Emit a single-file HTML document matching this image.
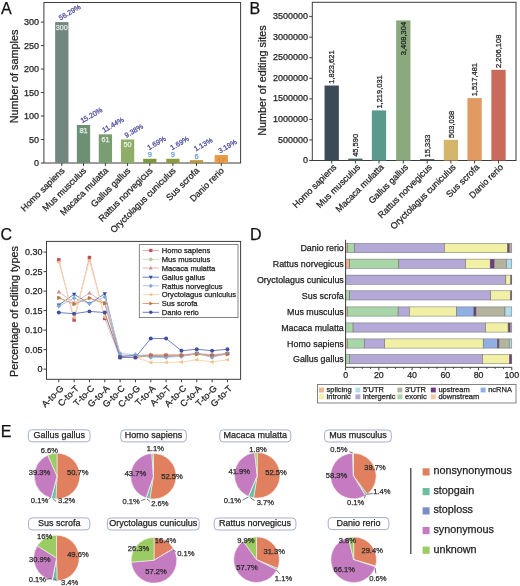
<!DOCTYPE html>
<html><head><meta charset="utf-8"><style>
html,body{margin:0;padding:0;background:#fff;}
svg{display:block;font-family:"Liberation Sans", sans-serif;filter:blur(0.3px);}
</style></head><body>
<svg width="520" height="586" viewBox="0 0 520 586">
<text x="0.90" y="13.60" font-size="16" text-anchor="start" fill="#111" stroke="#111" stroke-width="0.25">A</text>
<rect x="43.90" y="2.50" width="196.70" height="160.50" fill="none" stroke="#3c3c3c" stroke-width="1"/>
<line x1="40.90" y1="163.00" x2="43.90" y2="163.00" stroke="#3c3c3c" stroke-width="1"/>
<text x="39.00" y="166.20" font-size="9" text-anchor="end" fill="#222" stroke="#222" stroke-width="0.25">0</text>
<line x1="40.90" y1="139.52" x2="43.90" y2="139.52" stroke="#3c3c3c" stroke-width="1"/>
<text x="39.00" y="142.72" font-size="9" text-anchor="end" fill="#222" stroke="#222" stroke-width="0.25">50</text>
<line x1="40.90" y1="116.03" x2="43.90" y2="116.03" stroke="#3c3c3c" stroke-width="1"/>
<text x="39.00" y="119.23" font-size="9" text-anchor="end" fill="#222" stroke="#222" stroke-width="0.25">100</text>
<line x1="40.90" y1="92.55" x2="43.90" y2="92.55" stroke="#3c3c3c" stroke-width="1"/>
<text x="39.00" y="95.75" font-size="9" text-anchor="end" fill="#222" stroke="#222" stroke-width="0.25">150</text>
<line x1="40.90" y1="69.07" x2="43.90" y2="69.07" stroke="#3c3c3c" stroke-width="1"/>
<text x="39.00" y="72.27" font-size="9" text-anchor="end" fill="#222" stroke="#222" stroke-width="0.25">200</text>
<line x1="40.90" y1="45.58" x2="43.90" y2="45.58" stroke="#3c3c3c" stroke-width="1"/>
<text x="39.00" y="48.78" font-size="9" text-anchor="end" fill="#222" stroke="#222" stroke-width="0.25">250</text>
<line x1="40.90" y1="22.10" x2="43.90" y2="22.10" stroke="#3c3c3c" stroke-width="1"/>
<text x="39.00" y="25.30" font-size="9" text-anchor="end" fill="#222" stroke="#222" stroke-width="0.25">300</text>
<text x="0.00" y="0.00" font-size="10.8" text-anchor="middle" fill="#222" stroke="#222" stroke-width="0.25" transform="translate(17.8 76.5) rotate(-90)">Number of samples</text>
<rect x="55.15" y="22.10" width="13.30" height="140.90" fill="#718780" stroke="none" stroke-width="0"/>
<line x1="61.80" y1="163.00" x2="61.80" y2="166.00" stroke="#3c3c3c" stroke-width="1"/>
<text x="61.80" y="29.70" font-size="7.2" text-anchor="middle" fill="#e8efe8" stroke="#e8efe8" stroke-width="0.25">300</text>
<text x="60.50" y="20.50" font-size="7.1" text-anchor="start" fill="#4c4c9c" stroke="#4c4c9c" stroke-width="0.25" transform="rotate(-30 60.5 20.499999999999993)">56.29%</text>
<text x="65.10" y="171.20" font-size="9" text-anchor="end" fill="#222" stroke="#222" stroke-width="0.25" transform="rotate(-45 65.1 171.2)">Homo sapiens</text>
<rect x="76.85" y="124.96" width="13.30" height="38.04" fill="#6d8f74" stroke="none" stroke-width="0"/>
<line x1="83.50" y1="163.00" x2="83.50" y2="166.00" stroke="#3c3c3c" stroke-width="1"/>
<text x="83.50" y="132.56" font-size="7.2" text-anchor="middle" fill="#e8efe8" stroke="#e8efe8" stroke-width="0.25">81</text>
<text x="82.20" y="123.36" font-size="7.1" text-anchor="start" fill="#4c4c9c" stroke="#4c4c9c" stroke-width="0.25" transform="rotate(-30 82.2 123.357)">15.20%</text>
<text x="86.80" y="171.20" font-size="9" text-anchor="end" fill="#222" stroke="#222" stroke-width="0.25" transform="rotate(-45 86.8 171.2)">Mus musculus</text>
<rect x="98.75" y="134.35" width="13.30" height="28.65" fill="#7b9d72" stroke="none" stroke-width="0"/>
<line x1="105.40" y1="163.00" x2="105.40" y2="166.00" stroke="#3c3c3c" stroke-width="1"/>
<text x="105.40" y="141.95" font-size="7.2" text-anchor="middle" fill="#e8efe8" stroke="#e8efe8" stroke-width="0.25">61</text>
<text x="104.10" y="132.75" font-size="7.1" text-anchor="start" fill="#4c4c9c" stroke="#4c4c9c" stroke-width="0.25" transform="rotate(-30 104.10000000000001 132.75033333333334)">11.44%</text>
<text x="108.70" y="171.20" font-size="9" text-anchor="end" fill="#222" stroke="#222" stroke-width="0.25" transform="rotate(-45 108.7 171.2)">Macaca mulatta</text>
<rect x="120.95" y="139.52" width="13.30" height="23.48" fill="#8fae68" stroke="none" stroke-width="0"/>
<line x1="127.60" y1="163.00" x2="127.60" y2="166.00" stroke="#3c3c3c" stroke-width="1"/>
<text x="127.60" y="147.12" font-size="7.2" text-anchor="middle" fill="#e8efe8" stroke="#e8efe8" stroke-width="0.25">50</text>
<text x="126.30" y="137.92" font-size="7.1" text-anchor="start" fill="#4c4c9c" stroke="#4c4c9c" stroke-width="0.25" transform="rotate(-30 126.3 137.91666666666666)">9.38%</text>
<text x="130.90" y="171.20" font-size="9" text-anchor="end" fill="#222" stroke="#222" stroke-width="0.25" transform="rotate(-45 130.9 171.2)">Gallus gallus</text>
<rect x="143.15" y="158.77" width="13.30" height="4.23" fill="#7d9740" stroke="none" stroke-width="0"/>
<line x1="149.80" y1="163.00" x2="149.80" y2="166.00" stroke="#3c3c3c" stroke-width="1"/>
<text x="149.80" y="157.17" font-size="7.5" text-anchor="middle" fill="#6aa0d8" stroke="#6aa0d8" stroke-width="0.25">9</text>
<text x="149.00" y="150.17" font-size="7.1" text-anchor="start" fill="#4c4c9c" stroke="#4c4c9c" stroke-width="0.25" transform="rotate(-30 149.0 150.173)">1.69%</text>
<text x="153.10" y="171.20" font-size="9" text-anchor="end" fill="#222" stroke="#222" stroke-width="0.25" transform="rotate(-45 153.10000000000002 171.2)">Rattus norvegicus</text>
<rect x="166.25" y="158.77" width="13.30" height="4.23" fill="#8e9a3c" stroke="none" stroke-width="0"/>
<line x1="172.90" y1="163.00" x2="172.90" y2="166.00" stroke="#3c3c3c" stroke-width="1"/>
<text x="172.90" y="157.17" font-size="7.5" text-anchor="middle" fill="#6aa0d8" stroke="#6aa0d8" stroke-width="0.25">9</text>
<text x="172.10" y="150.17" font-size="7.1" text-anchor="start" fill="#4c4c9c" stroke="#4c4c9c" stroke-width="0.25" transform="rotate(-30 172.1 150.173)">1.69%</text>
<text x="176.20" y="171.20" font-size="9" text-anchor="end" fill="#222" stroke="#222" stroke-width="0.25" transform="rotate(-45 176.20000000000002 171.2)">Oryctolagus cuniculus</text>
<rect x="189.85" y="160.18" width="13.30" height="2.82" fill="#b8963c" stroke="none" stroke-width="0"/>
<line x1="196.50" y1="163.00" x2="196.50" y2="166.00" stroke="#3c3c3c" stroke-width="1"/>
<text x="196.50" y="158.58" font-size="7.5" text-anchor="middle" fill="#6aa0d8" stroke="#6aa0d8" stroke-width="0.25">6</text>
<text x="195.70" y="151.58" font-size="7.1" text-anchor="start" fill="#4c4c9c" stroke="#4c4c9c" stroke-width="0.25" transform="rotate(-30 195.7 151.582)">1.13%</text>
<text x="199.80" y="171.20" font-size="9" text-anchor="end" fill="#222" stroke="#222" stroke-width="0.25" transform="rotate(-45 199.8 171.2)">Sus scrofa</text>
<rect x="214.65" y="155.02" width="13.30" height="7.98" fill="#e89c48" stroke="none" stroke-width="0"/>
<line x1="221.30" y1="163.00" x2="221.30" y2="166.00" stroke="#3c3c3c" stroke-width="1"/>
<text x="221.30" y="162.62" font-size="7.2" text-anchor="middle" fill="#d08a3a" stroke="#d08a3a" stroke-width="0.25">17</text>
<text x="220.00" y="153.42" font-size="7.1" text-anchor="start" fill="#4c4c9c" stroke="#4c4c9c" stroke-width="0.25" transform="rotate(-30 220.0 153.41566666666668)">3.19%</text>
<text x="224.60" y="171.20" font-size="9" text-anchor="end" fill="#222" stroke="#222" stroke-width="0.25" transform="rotate(-45 224.60000000000002 171.2)">Danio rerio</text>
<text x="249.50" y="13.60" font-size="16" text-anchor="start" fill="#111" stroke="#111" stroke-width="0.25">B</text>
<rect x="312.30" y="2.30" width="203.70" height="158.20" fill="none" stroke="#3c3c3c" stroke-width="1"/>
<line x1="309.30" y1="160.50" x2="312.30" y2="160.50" stroke="#3c3c3c" stroke-width="1"/>
<text x="308.00" y="163.10" font-size="9" text-anchor="end" fill="#222" stroke="#222" stroke-width="0.25">0</text>
<line x1="309.30" y1="139.95" x2="312.30" y2="139.95" stroke="#3c3c3c" stroke-width="1"/>
<text x="308.00" y="142.55" font-size="9" text-anchor="end" fill="#222" stroke="#222" stroke-width="0.25">500000</text>
<line x1="309.30" y1="119.40" x2="312.30" y2="119.40" stroke="#3c3c3c" stroke-width="1"/>
<text x="308.00" y="122.00" font-size="9" text-anchor="end" fill="#222" stroke="#222" stroke-width="0.25">1000000</text>
<line x1="309.30" y1="98.85" x2="312.30" y2="98.85" stroke="#3c3c3c" stroke-width="1"/>
<text x="308.00" y="101.45" font-size="9" text-anchor="end" fill="#222" stroke="#222" stroke-width="0.25">1500000</text>
<line x1="309.30" y1="78.30" x2="312.30" y2="78.30" stroke="#3c3c3c" stroke-width="1"/>
<text x="308.00" y="80.90" font-size="9" text-anchor="end" fill="#222" stroke="#222" stroke-width="0.25">2000000</text>
<line x1="309.30" y1="57.75" x2="312.30" y2="57.75" stroke="#3c3c3c" stroke-width="1"/>
<text x="308.00" y="60.35" font-size="9" text-anchor="end" fill="#222" stroke="#222" stroke-width="0.25">2500000</text>
<line x1="309.30" y1="37.20" x2="312.30" y2="37.20" stroke="#3c3c3c" stroke-width="1"/>
<text x="308.00" y="39.80" font-size="9" text-anchor="end" fill="#222" stroke="#222" stroke-width="0.25">3000000</text>
<line x1="309.30" y1="16.65" x2="312.30" y2="16.65" stroke="#3c3c3c" stroke-width="1"/>
<text x="308.00" y="19.25" font-size="9" text-anchor="end" fill="#222" stroke="#222" stroke-width="0.25">3500000</text>
<text x="0.00" y="0.00" font-size="10.8" text-anchor="middle" fill="#222" stroke="#222" stroke-width="0.25" transform="translate(265.5 80.5) rotate(-90)">Number of editing sites</text>
<rect x="324.55" y="85.55" width="14.30" height="74.95" fill="#3b4a55" stroke="none" stroke-width="0"/>
<line x1="331.70" y1="160.50" x2="331.70" y2="163.50" stroke="#3c3c3c" stroke-width="1"/>
<text x="0.00" y="0.00" font-size="7.5" text-anchor="start" fill="#222" stroke="#222" stroke-width="0.25" transform="translate(334.40 83.75) rotate(-90)">1,823,621</text>
<text x="337.00" y="167.80" font-size="9" text-anchor="end" fill="#222" stroke="#222" stroke-width="0.25" transform="rotate(-45 337.0 167.8)">Homo sapiens</text>
<rect x="348.25" y="158.63" width="14.30" height="1.87" fill="#4a6462" stroke="none" stroke-width="0"/>
<line x1="355.40" y1="160.50" x2="355.40" y2="163.50" stroke="#3c3c3c" stroke-width="1"/>
<text x="0.00" y="0.00" font-size="7.5" text-anchor="start" fill="#222" stroke="#222" stroke-width="0.25" transform="translate(358.10 156.83) rotate(-90)">45,590</text>
<text x="360.70" y="167.80" font-size="9" text-anchor="end" fill="#222" stroke="#222" stroke-width="0.25" transform="rotate(-45 360.7 167.8)">Mus musculus</text>
<rect x="371.85" y="110.40" width="14.30" height="50.10" fill="#5a9a8c" stroke="none" stroke-width="0"/>
<line x1="379.00" y1="160.50" x2="379.00" y2="163.50" stroke="#3c3c3c" stroke-width="1"/>
<text x="0.00" y="0.00" font-size="7.5" text-anchor="start" fill="#222" stroke="#222" stroke-width="0.25" transform="translate(381.70 108.60) rotate(-90)">1,219,031</text>
<text x="384.30" y="167.80" font-size="9" text-anchor="end" fill="#222" stroke="#222" stroke-width="0.25" transform="rotate(-45 384.3 167.8)">Macaca mulatta</text>
<rect x="396.15" y="20.42" width="14.30" height="140.08" fill="#8aa97c" stroke="none" stroke-width="0"/>
<line x1="403.30" y1="160.50" x2="403.30" y2="163.50" stroke="#3c3c3c" stroke-width="1"/>
<text x="0.00" y="0.00" font-size="7.5" text-anchor="end" fill="#222" stroke="#222" stroke-width="0.25" transform="translate(406.00 21.92) rotate(-90)">3,408,304</text>
<text x="408.60" y="167.80" font-size="9" text-anchor="end" fill="#222" stroke="#222" stroke-width="0.25" transform="rotate(-45 408.6 167.8)">Gallus gallus</text>
<rect x="420.05" y="159.20" width="14.30" height="1.30" fill="#3a4640" stroke="none" stroke-width="0"/>
<line x1="427.20" y1="160.50" x2="427.20" y2="163.50" stroke="#3c3c3c" stroke-width="1"/>
<text x="0.00" y="0.00" font-size="7.5" text-anchor="start" fill="#222" stroke="#222" stroke-width="0.25" transform="translate(429.90 157.40) rotate(-90)">15,333</text>
<text x="432.50" y="167.80" font-size="9" text-anchor="end" fill="#222" stroke="#222" stroke-width="0.25" transform="rotate(-45 432.5 167.8)">Rattus norvegicus</text>
<rect x="443.75" y="139.83" width="14.30" height="20.67" fill="#d5b56c" stroke="none" stroke-width="0"/>
<line x1="450.90" y1="160.50" x2="450.90" y2="163.50" stroke="#3c3c3c" stroke-width="1"/>
<text x="0.00" y="0.00" font-size="7.5" text-anchor="start" fill="#222" stroke="#222" stroke-width="0.25" transform="translate(453.60 138.03) rotate(-90)">503,038</text>
<text x="456.20" y="167.80" font-size="9" text-anchor="end" fill="#222" stroke="#222" stroke-width="0.25" transform="rotate(-45 456.2 167.8)">Oryctolagus cuniculus</text>
<rect x="467.45" y="98.13" width="14.30" height="62.37" fill="#e29a63" stroke="none" stroke-width="0"/>
<line x1="474.60" y1="160.50" x2="474.60" y2="163.50" stroke="#3c3c3c" stroke-width="1"/>
<text x="0.00" y="0.00" font-size="7.5" text-anchor="start" fill="#222" stroke="#222" stroke-width="0.25" transform="translate(477.30 96.33) rotate(-90)">1,517,481</text>
<text x="479.90" y="167.80" font-size="9" text-anchor="end" fill="#222" stroke="#222" stroke-width="0.25" transform="rotate(-45 479.90000000000003 167.8)">Sus scrofa</text>
<rect x="491.35" y="69.83" width="14.30" height="90.67" fill="#c96a5a" stroke="none" stroke-width="0"/>
<line x1="498.50" y1="160.50" x2="498.50" y2="163.50" stroke="#3c3c3c" stroke-width="1"/>
<text x="0.00" y="0.00" font-size="7.5" text-anchor="start" fill="#222" stroke="#222" stroke-width="0.25" transform="translate(501.20 68.03) rotate(-90)">2,206,108</text>
<text x="503.80" y="167.80" font-size="9" text-anchor="end" fill="#222" stroke="#222" stroke-width="0.25" transform="rotate(-45 503.8 167.8)">Danio rerio</text>
<text x="0.50" y="239.80" font-size="16" text-anchor="start" fill="#111" stroke="#111" stroke-width="0.25">C</text>
<rect x="46.50" y="241.40" width="194.10" height="137.90" fill="none" stroke="#3c3c3c" stroke-width="1"/>
<line x1="43.50" y1="369.10" x2="46.50" y2="369.10" stroke="#3c3c3c" stroke-width="1"/>
<text x="42.60" y="372.30" font-size="9" text-anchor="end" fill="#222" stroke="#222" stroke-width="0.25">0</text>
<line x1="43.50" y1="349.60" x2="46.50" y2="349.60" stroke="#3c3c3c" stroke-width="1"/>
<text x="42.60" y="352.80" font-size="9" text-anchor="end" fill="#222" stroke="#222" stroke-width="0.25">0.05</text>
<line x1="43.50" y1="330.10" x2="46.50" y2="330.10" stroke="#3c3c3c" stroke-width="1"/>
<text x="42.60" y="333.30" font-size="9" text-anchor="end" fill="#222" stroke="#222" stroke-width="0.25">0.10</text>
<line x1="43.50" y1="310.60" x2="46.50" y2="310.60" stroke="#3c3c3c" stroke-width="1"/>
<text x="42.60" y="313.80" font-size="9" text-anchor="end" fill="#222" stroke="#222" stroke-width="0.25">0.15</text>
<line x1="43.50" y1="291.10" x2="46.50" y2="291.10" stroke="#3c3c3c" stroke-width="1"/>
<text x="42.60" y="294.30" font-size="9" text-anchor="end" fill="#222" stroke="#222" stroke-width="0.25">0.20</text>
<line x1="43.50" y1="271.60" x2="46.50" y2="271.60" stroke="#3c3c3c" stroke-width="1"/>
<text x="42.60" y="274.80" font-size="9" text-anchor="end" fill="#222" stroke="#222" stroke-width="0.25">0.25</text>
<line x1="43.50" y1="252.10" x2="46.50" y2="252.10" stroke="#3c3c3c" stroke-width="1"/>
<text x="42.60" y="255.30" font-size="9" text-anchor="end" fill="#222" stroke="#222" stroke-width="0.25">0.30</text>
<text x="0.00" y="0.00" font-size="10.8" text-anchor="middle" fill="#222" stroke="#222" stroke-width="0.25" transform="translate(18.1 311.5) rotate(-90)">Percentage of editing types</text>
<line x1="58.80" y1="379.30" x2="58.80" y2="382.30" stroke="#3c3c3c" stroke-width="1"/>
<text x="64.10" y="389.00" font-size="9" text-anchor="end" fill="#222" stroke="#222" stroke-width="0.25" transform="rotate(-45 64.1 389.0)">A-to-G</text>
<line x1="74.13" y1="379.30" x2="74.13" y2="382.30" stroke="#3c3c3c" stroke-width="1"/>
<text x="79.43" y="389.00" font-size="9" text-anchor="end" fill="#222" stroke="#222" stroke-width="0.25" transform="rotate(-45 79.42999999999999 389.0)">C-to-T</text>
<line x1="89.46" y1="379.30" x2="89.46" y2="382.30" stroke="#3c3c3c" stroke-width="1"/>
<text x="94.76" y="389.00" font-size="9" text-anchor="end" fill="#222" stroke="#222" stroke-width="0.25" transform="rotate(-45 94.75999999999999 389.0)">T-to-C</text>
<line x1="104.79" y1="379.30" x2="104.79" y2="382.30" stroke="#3c3c3c" stroke-width="1"/>
<text x="110.09" y="389.00" font-size="9" text-anchor="end" fill="#222" stroke="#222" stroke-width="0.25" transform="rotate(-45 110.08999999999999 389.0)">G-to-A</text>
<line x1="120.12" y1="379.30" x2="120.12" y2="382.30" stroke="#3c3c3c" stroke-width="1"/>
<text x="125.42" y="389.00" font-size="9" text-anchor="end" fill="#222" stroke="#222" stroke-width="0.25" transform="rotate(-45 125.42 389.0)">G-to-C</text>
<line x1="135.45" y1="379.30" x2="135.45" y2="382.30" stroke="#3c3c3c" stroke-width="1"/>
<text x="140.75" y="389.00" font-size="9" text-anchor="end" fill="#222" stroke="#222" stroke-width="0.25" transform="rotate(-45 140.75 389.0)">C-to-G</text>
<line x1="150.78" y1="379.30" x2="150.78" y2="382.30" stroke="#3c3c3c" stroke-width="1"/>
<text x="156.08" y="389.00" font-size="9" text-anchor="end" fill="#222" stroke="#222" stroke-width="0.25" transform="rotate(-45 156.08 389.0)">T-to-A</text>
<line x1="166.11" y1="379.30" x2="166.11" y2="382.30" stroke="#3c3c3c" stroke-width="1"/>
<text x="171.41" y="389.00" font-size="9" text-anchor="end" fill="#222" stroke="#222" stroke-width="0.25" transform="rotate(-45 171.41000000000003 389.0)">A-to-T</text>
<line x1="181.44" y1="379.30" x2="181.44" y2="382.30" stroke="#3c3c3c" stroke-width="1"/>
<text x="186.74" y="389.00" font-size="9" text-anchor="end" fill="#222" stroke="#222" stroke-width="0.25" transform="rotate(-45 186.74 389.0)">A-to-C</text>
<line x1="196.77" y1="379.30" x2="196.77" y2="382.30" stroke="#3c3c3c" stroke-width="1"/>
<text x="202.07" y="389.00" font-size="9" text-anchor="end" fill="#222" stroke="#222" stroke-width="0.25" transform="rotate(-45 202.07 389.0)">C-to-A</text>
<line x1="212.10" y1="379.30" x2="212.10" y2="382.30" stroke="#3c3c3c" stroke-width="1"/>
<text x="217.40" y="389.00" font-size="9" text-anchor="end" fill="#222" stroke="#222" stroke-width="0.25" transform="rotate(-45 217.40000000000003 389.0)">T-to-G</text>
<line x1="227.43" y1="379.30" x2="227.43" y2="382.30" stroke="#3c3c3c" stroke-width="1"/>
<text x="232.73" y="389.00" font-size="9" text-anchor="end" fill="#222" stroke="#222" stroke-width="0.25" transform="rotate(-45 232.73000000000002 389.0)">G-to-T</text>
<polyline points="58.80,259.90 74.13,319.96 89.46,257.56 104.79,318.40 120.12,357.40 135.45,357.40 150.78,355.45 166.11,355.45 181.44,355.45 196.77,353.50 212.10,355.45 227.43,353.50" fill="none" stroke="#e8a8b0" stroke-width="1"/>
<polyline points="58.80,297.73 74.13,304.36 89.46,298.12 104.79,302.80 120.12,355.45 135.45,355.45 150.78,356.23 166.11,356.23 181.44,355.45 196.77,354.28 212.10,356.23 227.43,354.28" fill="none" stroke="#d0e0c8" stroke-width="1"/>
<polyline points="58.80,291.88 74.13,302.80 89.46,293.05 104.79,302.80 120.12,355.45 135.45,355.45 150.78,354.67 166.11,354.67 181.44,354.67 196.77,353.50 212.10,354.67 227.43,353.50" fill="none" stroke="#e6b8b8" stroke-width="1"/>
<polyline points="58.80,305.14 74.13,294.22 89.46,303.58 104.79,293.83 120.12,356.62 135.45,355.45 150.78,356.23 166.11,356.23 181.44,356.23 196.77,353.50 212.10,356.23 227.43,353.50" fill="none" stroke="#6a80c0" stroke-width="1"/>
<polyline points="58.80,306.31 74.13,298.12 89.46,303.58 104.79,296.95 120.12,353.50 135.45,354.67 150.78,357.40 166.11,357.40 181.44,356.23 196.77,353.50 212.10,357.40 227.43,353.50" fill="none" stroke="#b0c8e8" stroke-width="1"/>
<polyline points="58.80,262.24 74.13,317.62 89.46,260.68 104.79,317.23 120.12,357.40 135.45,357.40 150.78,362.47 166.11,362.47 181.44,362.08 196.77,359.74 212.10,362.08 227.43,359.74" fill="none" stroke="#f6d8b0" stroke-width="1"/>
<polyline points="58.80,297.93 74.13,303.97 89.46,298.12 104.79,303.58 120.12,357.40 135.45,357.40 150.78,355.45 166.11,355.45 181.44,355.45 196.77,354.28 212.10,355.45 227.43,354.28" fill="none" stroke="#dca078" stroke-width="1"/>
<polyline points="58.80,312.55 74.13,313.72 89.46,311.38 104.79,312.55 120.12,357.40 135.45,357.40 150.78,338.49 166.11,338.49 181.44,350.77 196.77,349.21 212.10,350.77 227.43,349.21" fill="none" stroke="#7080c0" stroke-width="1"/>
<rect x="57.02" y="258.11" width="3.57" height="3.57" fill="#c4505c" stroke="none" stroke-width="0"/>
<rect x="72.34" y="318.18" width="3.57" height="3.57" fill="#c4505c" stroke="none" stroke-width="0"/>
<rect x="87.67" y="255.78" width="3.57" height="3.57" fill="#c4505c" stroke="none" stroke-width="0"/>
<rect x="103.00" y="316.62" width="3.57" height="3.57" fill="#c4505c" stroke="none" stroke-width="0"/>
<rect x="118.34" y="355.62" width="3.57" height="3.57" fill="#c4505c" stroke="none" stroke-width="0"/>
<rect x="133.66" y="355.62" width="3.57" height="3.57" fill="#c4505c" stroke="none" stroke-width="0"/>
<rect x="149.00" y="353.67" width="3.57" height="3.57" fill="#c4505c" stroke="none" stroke-width="0"/>
<rect x="164.33" y="353.67" width="3.57" height="3.57" fill="#c4505c" stroke="none" stroke-width="0"/>
<rect x="179.66" y="353.67" width="3.57" height="3.57" fill="#c4505c" stroke="none" stroke-width="0"/>
<rect x="194.98" y="351.71" width="3.57" height="3.57" fill="#c4505c" stroke="none" stroke-width="0"/>
<rect x="210.32" y="353.67" width="3.57" height="3.57" fill="#c4505c" stroke="none" stroke-width="0"/>
<rect x="225.65" y="351.71" width="3.57" height="3.57" fill="#c4505c" stroke="none" stroke-width="0"/>
<circle cx="58.80" cy="297.73" r="1.99" fill="#b4cca4"/>
<circle cx="74.13" cy="304.36" r="1.99" fill="#b4cca4"/>
<circle cx="89.46" cy="298.12" r="1.99" fill="#b4cca4"/>
<circle cx="104.79" cy="302.80" r="1.99" fill="#b4cca4"/>
<circle cx="120.12" cy="355.45" r="1.99" fill="#b4cca4"/>
<circle cx="135.45" cy="355.45" r="1.99" fill="#b4cca4"/>
<circle cx="150.78" cy="356.23" r="1.99" fill="#b4cca4"/>
<circle cx="166.11" cy="356.23" r="1.99" fill="#b4cca4"/>
<circle cx="181.44" cy="355.45" r="1.99" fill="#b4cca4"/>
<circle cx="196.77" cy="354.28" r="1.99" fill="#b4cca4"/>
<circle cx="212.10" cy="356.23" r="1.99" fill="#b4cca4"/>
<circle cx="227.43" cy="354.28" r="1.99" fill="#b4cca4"/>
<path d="M58.80 289.46L60.90 293.45L56.70 293.45Z" fill="#cc9090"/>
<path d="M74.13 300.38L76.23 304.38L72.03 304.38Z" fill="#cc9090"/>
<path d="M89.46 290.63L91.56 294.62L87.36 294.62Z" fill="#cc9090"/>
<path d="M104.79 300.38L106.89 304.38L102.69 304.38Z" fill="#cc9090"/>
<path d="M120.12 353.04L122.22 357.03L118.02 357.03Z" fill="#cc9090"/>
<path d="M135.45 353.04L137.55 357.03L133.35 357.03Z" fill="#cc9090"/>
<path d="M150.78 352.25L152.88 356.25L148.68 356.25Z" fill="#cc9090"/>
<path d="M166.11 352.25L168.21 356.25L164.01 356.25Z" fill="#cc9090"/>
<path d="M181.44 352.25L183.54 356.25L179.34 356.25Z" fill="#cc9090"/>
<path d="M196.77 351.08L198.87 355.07L194.67 355.07Z" fill="#cc9090"/>
<path d="M212.10 352.25L214.20 356.25L210.00 356.25Z" fill="#cc9090"/>
<path d="M227.43 351.08L229.53 355.07L225.33 355.07Z" fill="#cc9090"/>
<path d="M58.80 307.56L60.90 303.57L56.70 303.57Z" fill="#2f4c9c"/>
<path d="M74.13 296.64L76.23 292.65L72.03 292.65Z" fill="#2f4c9c"/>
<path d="M89.46 306.00L91.56 302.01L87.36 302.01Z" fill="#2f4c9c"/>
<path d="M104.79 296.25L106.89 292.26L102.69 292.26Z" fill="#2f4c9c"/>
<path d="M120.12 359.04L122.22 355.05L118.02 355.05Z" fill="#2f4c9c"/>
<path d="M135.45 357.87L137.55 353.88L133.35 353.88Z" fill="#2f4c9c"/>
<path d="M150.78 358.65L152.88 354.66L148.68 354.66Z" fill="#2f4c9c"/>
<path d="M166.11 358.65L168.21 354.66L164.01 354.66Z" fill="#2f4c9c"/>
<path d="M181.44 358.65L183.54 354.66L179.34 354.66Z" fill="#2f4c9c"/>
<path d="M196.77 355.92L198.87 351.93L194.67 351.93Z" fill="#2f4c9c"/>
<path d="M212.10 358.65L214.20 354.66L210.00 354.66Z" fill="#2f4c9c"/>
<path d="M227.43 355.92L229.53 351.93L225.33 351.93Z" fill="#2f4c9c"/>
<path d="M58.8 304.0L61.11 306.31L58.8 308.62L56.489999999999995 306.31Z" fill="#86a8d6"/>
<path d="M74.13 295.81L76.44 298.12L74.13 300.43L71.82 298.12Z" fill="#86a8d6"/>
<path d="M89.46 301.27000000000004L91.77 303.58000000000004L89.46 305.89000000000004L87.14999999999999 303.58000000000004Z" fill="#86a8d6"/>
<path d="M104.78999999999999 294.64000000000004L107.1 296.95000000000005L104.78999999999999 299.26000000000005L102.47999999999999 296.95000000000005Z" fill="#86a8d6"/>
<path d="M120.12 351.19L122.43 353.5L120.12 355.81L117.81 353.5Z" fill="#86a8d6"/>
<path d="M135.45 352.36L137.76 354.67L135.45 356.98L133.14 354.67Z" fill="#86a8d6"/>
<path d="M150.78 355.09000000000003L153.09 357.40000000000003L150.78 359.71000000000004L148.47 357.40000000000003Z" fill="#86a8d6"/>
<path d="M166.11 355.09000000000003L168.42000000000002 357.40000000000003L166.11 359.71000000000004L163.8 357.40000000000003Z" fill="#86a8d6"/>
<path d="M181.44 353.92L183.75 356.23L181.44 358.54L179.13 356.23Z" fill="#86a8d6"/>
<path d="M196.76999999999998 351.19L199.07999999999998 353.5L196.76999999999998 355.81L194.45999999999998 353.5Z" fill="#86a8d6"/>
<path d="M212.10000000000002 355.09000000000003L214.41000000000003 357.40000000000003L212.10000000000002 359.71000000000004L209.79000000000002 357.40000000000003Z" fill="#86a8d6"/>
<path d="M227.43 351.19L229.74 353.5L227.43 355.81L225.12 353.5Z" fill="#86a8d6"/>
<path d="M56.38 262.24L60.38 260.14L60.38 264.34Z" fill="#f0c488"/>
<path d="M71.71 317.62L75.70 315.52L75.70 319.72Z" fill="#f0c488"/>
<path d="M87.04 260.68L91.03 258.58L91.03 262.78Z" fill="#f0c488"/>
<path d="M102.37 317.23L106.36 315.13L106.36 319.33Z" fill="#f0c488"/>
<path d="M117.70 357.40L121.70 355.30L121.70 359.50Z" fill="#f0c488"/>
<path d="M133.03 357.40L137.02 355.30L137.02 359.50Z" fill="#f0c488"/>
<path d="M148.37 362.47L152.35 360.37L152.35 364.57Z" fill="#f0c488"/>
<path d="M163.70 362.47L167.69 360.37L167.69 364.57Z" fill="#f0c488"/>
<path d="M179.03 362.08L183.01 359.98L183.01 364.18Z" fill="#f0c488"/>
<path d="M194.35 359.74L198.34 357.64L198.34 361.84Z" fill="#f0c488"/>
<path d="M209.69 362.08L213.68 359.98L213.68 364.18Z" fill="#f0c488"/>
<path d="M225.02 359.74L229.00 357.64L229.00 361.84Z" fill="#f0c488"/>
<path d="M61.21 297.93L57.22 295.82L57.22 300.03Z" fill="#c47040"/>
<path d="M76.55 303.97L72.55 301.87L72.55 306.07Z" fill="#c47040"/>
<path d="M91.88 298.12L87.88 296.02L87.88 300.22Z" fill="#c47040"/>
<path d="M107.20 303.58L103.21 301.48L103.21 305.68Z" fill="#c47040"/>
<path d="M122.54 357.40L118.55 355.30L118.55 359.50Z" fill="#c47040"/>
<path d="M137.86 357.40L133.88 355.30L133.88 359.50Z" fill="#c47040"/>
<path d="M153.19 355.45L149.21 353.35L149.21 357.55Z" fill="#c47040"/>
<path d="M168.53 355.45L164.54 353.35L164.54 357.55Z" fill="#c47040"/>
<path d="M183.85 355.45L179.87 353.35L179.87 357.55Z" fill="#c47040"/>
<path d="M199.18 354.28L195.19 352.18L195.19 356.38Z" fill="#c47040"/>
<path d="M214.52 355.45L210.53 353.35L210.53 357.55Z" fill="#c47040"/>
<path d="M229.84 354.28L225.86 352.18L225.86 356.38Z" fill="#c47040"/>
<circle cx="58.80" cy="312.55" r="1.99" fill="#4050a0"/>
<circle cx="74.13" cy="313.72" r="1.99" fill="#4050a0"/>
<circle cx="89.46" cy="311.38" r="1.99" fill="#4050a0"/>
<circle cx="104.79" cy="312.55" r="1.99" fill="#4050a0"/>
<circle cx="120.12" cy="357.40" r="1.99" fill="#4050a0"/>
<circle cx="135.45" cy="357.40" r="1.99" fill="#4050a0"/>
<circle cx="150.78" cy="338.49" r="1.99" fill="#4050a0"/>
<circle cx="166.11" cy="338.49" r="1.99" fill="#4050a0"/>
<circle cx="181.44" cy="350.77" r="1.99" fill="#4050a0"/>
<circle cx="196.77" cy="349.21" r="1.99" fill="#4050a0"/>
<circle cx="212.10" cy="350.77" r="1.99" fill="#4050a0"/>
<circle cx="227.43" cy="349.21" r="1.99" fill="#4050a0"/>
<rect x="139.30" y="244.60" width="98.70" height="73.00" fill="#fff" stroke="#666" stroke-width="0.8"/>
<line x1="142.60" y1="250.50" x2="159.00" y2="250.50" stroke="#e8a8b0" stroke-width="1"/>
<rect x="149.19" y="248.88" width="3.23" height="3.23" fill="#c4505c" stroke="none" stroke-width="0"/>
<text x="161.70" y="253.30" font-size="7.6" text-anchor="start" fill="#222" stroke="#222" stroke-width="0.25">Homo sapiens</text>
<line x1="142.60" y1="259.40" x2="159.00" y2="259.40" stroke="#d0e0c8" stroke-width="1"/>
<circle cx="150.80" cy="259.40" r="1.80" fill="#b4cca4"/>
<text x="161.70" y="262.20" font-size="7.6" text-anchor="start" fill="#222" stroke="#222" stroke-width="0.25">Mus musculus</text>
<line x1="142.60" y1="268.00" x2="159.00" y2="268.00" stroke="#e6b8b8" stroke-width="1"/>
<path d="M150.80 265.81L152.70 269.43L148.90 269.43Z" fill="#cc9090"/>
<text x="161.70" y="270.80" font-size="7.6" text-anchor="start" fill="#222" stroke="#222" stroke-width="0.25">Macaca mulatta</text>
<line x1="142.60" y1="277.20" x2="159.00" y2="277.20" stroke="#6a80c0" stroke-width="1"/>
<path d="M150.80 279.38L152.70 275.77L148.90 275.77Z" fill="#2f4c9c"/>
<text x="161.70" y="280.00" font-size="7.6" text-anchor="start" fill="#222" stroke="#222" stroke-width="0.25">Gallus gallus</text>
<line x1="142.60" y1="285.80" x2="159.00" y2="285.80" stroke="#b0c8e8" stroke-width="1"/>
<path d="M150.8 283.71000000000004L152.89000000000001 285.8L150.8 287.89L148.71 285.8Z" fill="#86a8d6"/>
<text x="161.70" y="288.60" font-size="7.6" text-anchor="start" fill="#222" stroke="#222" stroke-width="0.25">Rattus norvegicus</text>
<line x1="142.60" y1="294.60" x2="159.00" y2="294.60" stroke="#f6d8b0" stroke-width="1"/>
<path d="M148.62 294.60L152.23 292.70L152.23 296.50Z" fill="#f0c488"/>
<text x="161.70" y="297.40" font-size="7.6" text-anchor="start" fill="#222" stroke="#222" stroke-width="0.25">Oryctolagus cuniculus</text>
<line x1="142.60" y1="303.50" x2="159.00" y2="303.50" stroke="#dca078" stroke-width="1"/>
<path d="M152.99 303.50L149.38 301.60L149.38 305.40Z" fill="#c47040"/>
<text x="161.70" y="306.30" font-size="7.6" text-anchor="start" fill="#222" stroke="#222" stroke-width="0.25">Sus scrofa</text>
<line x1="142.60" y1="312.30" x2="159.00" y2="312.30" stroke="#7080c0" stroke-width="1"/>
<circle cx="150.80" cy="312.30" r="1.80" fill="#4050a0"/>
<text x="161.70" y="315.10" font-size="7.6" text-anchor="start" fill="#222" stroke="#222" stroke-width="0.25">Danio rerio</text>
<text x="249.90" y="239.50" font-size="16" text-anchor="start" fill="#111" stroke="#111" stroke-width="0.25">D</text>
<rect x="345.60" y="243.50" width="1.83" height="9.20" fill="#f0b48e" stroke="#6a6a6a" stroke-width="0.5"/>
<rect x="347.43" y="243.50" width="7.31" height="9.20" fill="#a8d6a8" stroke="#6a6a6a" stroke-width="0.5"/>
<rect x="354.74" y="243.50" width="89.75" height="9.20" fill="#b4a8d6" stroke="#6a6a6a" stroke-width="0.5"/>
<rect x="444.49" y="243.50" width="63.16" height="9.20" fill="#f2f0a4" stroke="#6a6a6a" stroke-width="0.5"/>
<rect x="507.64" y="243.50" width="1.66" height="9.20" fill="#6c3a7e" stroke="#6a6a6a" stroke-width="0.5"/>
<rect x="509.31" y="243.50" width="2.49" height="9.20" fill="#b3b39e" stroke="#6a6a6a" stroke-width="0.5"/>
<text x="343.80" y="251.30" font-size="8.9" text-anchor="end" fill="#222" stroke="#222" stroke-width="0.25">Danio rerio</text>
<rect x="345.60" y="259.10" width="4.15" height="9.20" fill="#f0b48e" stroke="#6a6a6a" stroke-width="0.5"/>
<rect x="349.75" y="259.10" width="49.03" height="9.20" fill="#a8d6a8" stroke="#6a6a6a" stroke-width="0.5"/>
<rect x="398.78" y="259.10" width="66.81" height="9.20" fill="#b4a8d6" stroke="#6a6a6a" stroke-width="0.5"/>
<rect x="465.60" y="259.10" width="24.60" height="9.20" fill="#f2f0a4" stroke="#6a6a6a" stroke-width="0.5"/>
<rect x="490.19" y="259.10" width="3.99" height="9.20" fill="#6c3a7e" stroke="#6a6a6a" stroke-width="0.5"/>
<rect x="494.18" y="259.10" width="12.13" height="9.20" fill="#b3b39e" stroke="#6a6a6a" stroke-width="0.5"/>
<rect x="506.32" y="259.10" width="5.48" height="9.20" fill="#b2dcea" stroke="#6a6a6a" stroke-width="0.5"/>
<text x="343.80" y="266.90" font-size="8.9" text-anchor="end" fill="#222" stroke="#222" stroke-width="0.25">Rattus norvegicus</text>
<rect x="345.60" y="275.10" width="160.22" height="9.20" fill="#b4a8d6" stroke="#6a6a6a" stroke-width="0.5"/>
<rect x="505.82" y="275.10" width="4.99" height="9.20" fill="#f2f0a4" stroke="#6a6a6a" stroke-width="0.5"/>
<rect x="510.80" y="275.10" width="1.00" height="9.20" fill="#6c3a7e" stroke="#6a6a6a" stroke-width="0.5"/>
<text x="343.80" y="282.90" font-size="8.9" text-anchor="end" fill="#222" stroke="#222" stroke-width="0.25">Oryctolagus cuniculus</text>
<rect x="345.60" y="290.80" width="4.15" height="9.20" fill="#a8d6a8" stroke="#6a6a6a" stroke-width="0.5"/>
<rect x="349.75" y="290.80" width="140.94" height="9.20" fill="#b4a8d6" stroke="#6a6a6a" stroke-width="0.5"/>
<rect x="490.69" y="290.80" width="19.94" height="9.20" fill="#f2f0a4" stroke="#6a6a6a" stroke-width="0.5"/>
<rect x="510.64" y="290.80" width="1.16" height="9.20" fill="#6c3a7e" stroke="#6a6a6a" stroke-width="0.5"/>
<text x="343.80" y="298.60" font-size="8.9" text-anchor="end" fill="#222" stroke="#222" stroke-width="0.25">Sus scrofa</text>
<rect x="345.60" y="306.90" width="1.66" height="9.20" fill="#f0b48e" stroke="#6a6a6a" stroke-width="0.5"/>
<rect x="347.26" y="306.90" width="50.86" height="9.20" fill="#a8d6a8" stroke="#6a6a6a" stroke-width="0.5"/>
<rect x="398.12" y="306.90" width="11.30" height="9.20" fill="#b4a8d6" stroke="#6a6a6a" stroke-width="0.5"/>
<rect x="409.42" y="306.90" width="47.20" height="9.20" fill="#f2f0a4" stroke="#6a6a6a" stroke-width="0.5"/>
<rect x="456.62" y="306.90" width="17.28" height="9.20" fill="#90b0e4" stroke="#6a6a6a" stroke-width="0.5"/>
<rect x="473.91" y="306.90" width="2.16" height="9.20" fill="#6c3a7e" stroke="#6a6a6a" stroke-width="0.5"/>
<rect x="476.07" y="306.90" width="28.92" height="9.20" fill="#b3b39e" stroke="#6a6a6a" stroke-width="0.5"/>
<rect x="504.99" y="306.90" width="6.81" height="9.20" fill="#b2dcea" stroke="#6a6a6a" stroke-width="0.5"/>
<text x="343.80" y="314.70" font-size="8.9" text-anchor="end" fill="#222" stroke="#222" stroke-width="0.25">Mus musculus</text>
<rect x="345.60" y="322.90" width="7.48" height="9.20" fill="#a8d6a8" stroke="#6a6a6a" stroke-width="0.5"/>
<rect x="353.08" y="322.90" width="132.46" height="9.20" fill="#b4a8d6" stroke="#6a6a6a" stroke-width="0.5"/>
<rect x="485.54" y="322.90" width="22.60" height="9.20" fill="#f2f0a4" stroke="#6a6a6a" stroke-width="0.5"/>
<rect x="508.14" y="322.90" width="1.99" height="9.20" fill="#6c3a7e" stroke="#6a6a6a" stroke-width="0.5"/>
<rect x="510.14" y="322.90" width="1.66" height="9.20" fill="#b3b39e" stroke="#6a6a6a" stroke-width="0.5"/>
<text x="343.80" y="330.70" font-size="8.9" text-anchor="end" fill="#222" stroke="#222" stroke-width="0.25">Macaca mulatta</text>
<rect x="345.60" y="338.90" width="1.66" height="9.20" fill="#f0b48e" stroke="#6a6a6a" stroke-width="0.5"/>
<rect x="347.26" y="338.90" width="16.95" height="9.20" fill="#a8d6a8" stroke="#6a6a6a" stroke-width="0.5"/>
<rect x="364.21" y="338.90" width="20.44" height="9.20" fill="#b4a8d6" stroke="#6a6a6a" stroke-width="0.5"/>
<rect x="384.66" y="338.90" width="98.56" height="9.20" fill="#f2f0a4" stroke="#6a6a6a" stroke-width="0.5"/>
<rect x="483.21" y="338.90" width="14.13" height="9.20" fill="#90b0e4" stroke="#6a6a6a" stroke-width="0.5"/>
<rect x="497.34" y="338.90" width="1.66" height="9.20" fill="#6c3a7e" stroke="#6a6a6a" stroke-width="0.5"/>
<rect x="499.00" y="338.90" width="10.30" height="9.20" fill="#b3b39e" stroke="#6a6a6a" stroke-width="0.5"/>
<rect x="509.31" y="338.90" width="2.49" height="9.20" fill="#b2dcea" stroke="#6a6a6a" stroke-width="0.5"/>
<text x="343.80" y="346.70" font-size="8.9" text-anchor="end" fill="#222" stroke="#222" stroke-width="0.25">Homo sapiens</text>
<rect x="345.60" y="354.60" width="3.82" height="9.20" fill="#a8d6a8" stroke="#6a6a6a" stroke-width="0.5"/>
<rect x="349.42" y="354.60" width="133.13" height="9.20" fill="#b4a8d6" stroke="#6a6a6a" stroke-width="0.5"/>
<rect x="482.55" y="354.60" width="26.92" height="9.20" fill="#f2f0a4" stroke="#6a6a6a" stroke-width="0.5"/>
<rect x="509.47" y="354.60" width="2.33" height="9.20" fill="#6c3a7e" stroke="#6a6a6a" stroke-width="0.5"/>
<text x="343.80" y="362.40" font-size="8.9" text-anchor="end" fill="#222" stroke="#222" stroke-width="0.25">Gallus gallus</text>
<line x1="345.60" y1="239.80" x2="345.60" y2="367.30" stroke="#3c3c3c" stroke-width="1"/>
<line x1="345.60" y1="367.30" x2="511.80" y2="367.30" stroke="#3c3c3c" stroke-width="1"/>
<line x1="345.60" y1="367.30" x2="345.60" y2="370.30" stroke="#3c3c3c" stroke-width="1"/>
<line x1="353.91" y1="367.30" x2="353.91" y2="368.90" stroke="#3c3c3c" stroke-width="1"/>
<line x1="362.22" y1="367.30" x2="362.22" y2="368.90" stroke="#3c3c3c" stroke-width="1"/>
<line x1="370.53" y1="367.30" x2="370.53" y2="368.90" stroke="#3c3c3c" stroke-width="1"/>
<line x1="378.84" y1="367.30" x2="378.84" y2="370.30" stroke="#3c3c3c" stroke-width="1"/>
<line x1="387.15" y1="367.30" x2="387.15" y2="368.90" stroke="#3c3c3c" stroke-width="1"/>
<line x1="395.46" y1="367.30" x2="395.46" y2="368.90" stroke="#3c3c3c" stroke-width="1"/>
<line x1="403.77" y1="367.30" x2="403.77" y2="368.90" stroke="#3c3c3c" stroke-width="1"/>
<line x1="412.08" y1="367.30" x2="412.08" y2="370.30" stroke="#3c3c3c" stroke-width="1"/>
<line x1="420.39" y1="367.30" x2="420.39" y2="368.90" stroke="#3c3c3c" stroke-width="1"/>
<line x1="428.70" y1="367.30" x2="428.70" y2="368.90" stroke="#3c3c3c" stroke-width="1"/>
<line x1="437.01" y1="367.30" x2="437.01" y2="368.90" stroke="#3c3c3c" stroke-width="1"/>
<line x1="445.32" y1="367.30" x2="445.32" y2="370.30" stroke="#3c3c3c" stroke-width="1"/>
<line x1="453.63" y1="367.30" x2="453.63" y2="368.90" stroke="#3c3c3c" stroke-width="1"/>
<line x1="461.94" y1="367.30" x2="461.94" y2="368.90" stroke="#3c3c3c" stroke-width="1"/>
<line x1="470.25" y1="367.30" x2="470.25" y2="368.90" stroke="#3c3c3c" stroke-width="1"/>
<line x1="478.56" y1="367.30" x2="478.56" y2="370.30" stroke="#3c3c3c" stroke-width="1"/>
<line x1="486.87" y1="367.30" x2="486.87" y2="368.90" stroke="#3c3c3c" stroke-width="1"/>
<line x1="495.18" y1="367.30" x2="495.18" y2="368.90" stroke="#3c3c3c" stroke-width="1"/>
<line x1="503.49" y1="367.30" x2="503.49" y2="368.90" stroke="#3c3c3c" stroke-width="1"/>
<line x1="511.80" y1="367.30" x2="511.80" y2="370.30" stroke="#3c3c3c" stroke-width="1"/>
<text x="345.60" y="377.60" font-size="8.8" text-anchor="middle" fill="#222" stroke="#222" stroke-width="0.25">0</text>
<text x="378.84" y="377.60" font-size="8.8" text-anchor="middle" fill="#222" stroke="#222" stroke-width="0.25">20</text>
<text x="412.08" y="377.60" font-size="8.8" text-anchor="middle" fill="#222" stroke="#222" stroke-width="0.25">40</text>
<text x="445.32" y="377.60" font-size="8.8" text-anchor="middle" fill="#222" stroke="#222" stroke-width="0.25">60</text>
<text x="478.56" y="377.60" font-size="8.8" text-anchor="middle" fill="#222" stroke="#222" stroke-width="0.25">80</text>
<text x="511.80" y="377.60" font-size="8.8" text-anchor="middle" fill="#222" stroke="#222" stroke-width="0.25">100</text>
<rect x="317.40" y="384.40" width="198.60" height="18.60" fill="#fff" stroke="#666" stroke-width="0.8"/>
<rect x="319.00" y="387.60" width="5.00" height="4.80" fill="#f0b48e" stroke="none" stroke-width="0"/>
<text x="326.60" y="392.20" font-size="7.5" text-anchor="start" fill="#222" stroke="#222" stroke-width="0.25">splicing</text>
<rect x="355.40" y="387.60" width="5.00" height="4.80" fill="#b2dcea" stroke="none" stroke-width="0"/>
<text x="363.00" y="392.20" font-size="7.5" text-anchor="start" fill="#222" stroke="#222" stroke-width="0.25">5'UTR</text>
<rect x="397.40" y="387.60" width="5.00" height="4.80" fill="#b3b39e" stroke="none" stroke-width="0"/>
<text x="405.00" y="392.20" font-size="7.5" text-anchor="start" fill="#222" stroke="#222" stroke-width="0.25">3'UTR</text>
<rect x="430.80" y="387.60" width="5.00" height="4.80" fill="#6c3a7e" stroke="none" stroke-width="0"/>
<text x="438.40" y="392.20" font-size="7.5" text-anchor="start" fill="#222" stroke="#222" stroke-width="0.25">upstream</text>
<rect x="480.60" y="387.60" width="5.00" height="4.80" fill="#90b0e4" stroke="none" stroke-width="0"/>
<text x="488.20" y="392.20" font-size="7.5" text-anchor="start" fill="#222" stroke="#222" stroke-width="0.25">ncRNA</text>
<rect x="319.00" y="394.40" width="5.00" height="4.80" fill="#f2f0a4" stroke="none" stroke-width="0"/>
<text x="326.60" y="399.00" font-size="7.5" text-anchor="start" fill="#222" stroke="#222" stroke-width="0.25">intronic</text>
<rect x="355.40" y="394.40" width="5.00" height="4.80" fill="#b4a8d6" stroke="none" stroke-width="0"/>
<text x="363.00" y="399.00" font-size="7.5" text-anchor="start" fill="#222" stroke="#222" stroke-width="0.25">intergenic</text>
<rect x="397.40" y="394.40" width="5.00" height="4.80" fill="#a8d6a8" stroke="none" stroke-width="0"/>
<text x="405.00" y="399.00" font-size="7.5" text-anchor="start" fill="#222" stroke="#222" stroke-width="0.25">exonic</text>
<rect x="430.80" y="394.40" width="5.00" height="4.80" fill="#f2c8a0" stroke="none" stroke-width="0"/>
<text x="438.40" y="399.00" font-size="7.5" text-anchor="start" fill="#222" stroke="#222" stroke-width="0.25">downstream</text>
<text x="0.80" y="436.50" font-size="16" text-anchor="start" fill="#111" stroke="#111" stroke-width="0.25">E</text>
<rect x="28.30" y="429.80" width="61.70" height="12" rx="3.5" ry="3.5" fill="#fff" stroke="#9aa4cc" stroke-width="0.9"/>
<text x="59.15" y="438.10" font-size="9" text-anchor="middle" fill="#222" stroke="#222" stroke-width="0.25">Gallus gallus</text>
<path d="M57.00 476.00L57.00 453.20A22.8 22.8 0 1 1 55.92 498.77Z" fill="#e0805f" stroke="#f4f4f4" stroke-width="0.6"/>
<path d="M57.00 476.00L55.92 498.77A22.8 22.8 0 0 1 51.39 498.10Z" fill="#6cbf9e" stroke="#f4f4f4" stroke-width="0.6"/>
<path d="M57.00 476.00L51.39 498.10A22.8 22.8 0 0 1 51.25 498.06Z" fill="#7c8ec6" stroke="#f4f4f4" stroke-width="0.6"/>
<path d="M57.00 476.00L51.25 498.06A22.8 22.8 0 0 1 47.81 455.14Z" fill="#c57bc0" stroke="#f4f4f4" stroke-width="0.6"/>
<path d="M57.00 476.00L47.81 455.14A22.8 22.8 0 0 1 57.00 453.20Z" fill="#9bcb63" stroke="#f4f4f4" stroke-width="0.6"/>
<rect x="120.80" y="429.90" width="65.50" height="12" rx="3.5" ry="3.5" fill="#fff" stroke="#9aa4cc" stroke-width="0.9"/>
<text x="153.55" y="438.20" font-size="9" text-anchor="middle" fill="#222" stroke="#222" stroke-width="0.25">Homo sapiens</text>
<path d="M153.40 476.20L153.40 453.40A22.8 22.8 0 1 1 149.83 498.72Z" fill="#e0805f" stroke="#f4f4f4" stroke-width="0.6"/>
<path d="M153.40 476.20L149.83 498.72A22.8 22.8 0 0 1 146.22 497.84Z" fill="#6cbf9e" stroke="#f4f4f4" stroke-width="0.6"/>
<path d="M153.40 476.20L146.22 497.84A22.8 22.8 0 0 1 146.08 497.79Z" fill="#7c8ec6" stroke="#f4f4f4" stroke-width="0.6"/>
<path d="M153.40 476.20L146.08 497.79A22.8 22.8 0 0 1 151.83 453.45Z" fill="#c57bc0" stroke="#f4f4f4" stroke-width="0.6"/>
<path d="M153.40 476.20L151.83 453.45A22.8 22.8 0 0 1 153.40 453.40Z" fill="#9bcb63" stroke="#f4f4f4" stroke-width="0.6"/>
<rect x="219.80" y="429.90" width="71.00" height="12" rx="3.5" ry="3.5" fill="#fff" stroke="#9aa4cc" stroke-width="0.9"/>
<text x="255.30" y="438.20" font-size="9" text-anchor="middle" fill="#222" stroke="#222" stroke-width="0.25">Macaca mulatta</text>
<path d="M257.20 475.30L257.20 452.50A22.8 22.8 0 1 1 253.63 497.82Z" fill="#e0805f" stroke="#f4f4f4" stroke-width="0.6"/>
<path d="M257.20 475.30L253.63 497.82A22.8 22.8 0 0 1 248.54 496.39Z" fill="#6cbf9e" stroke="#f4f4f4" stroke-width="0.6"/>
<path d="M257.20 475.30L248.54 496.39A22.8 22.8 0 0 1 248.41 496.34Z" fill="#7c8ec6" stroke="#f4f4f4" stroke-width="0.6"/>
<path d="M257.20 475.30L248.41 496.34A22.8 22.8 0 0 1 254.63 452.65Z" fill="#c57bc0" stroke="#f4f4f4" stroke-width="0.6"/>
<path d="M257.20 475.30L254.63 452.65A22.8 22.8 0 0 1 257.20 452.50Z" fill="#9bcb63" stroke="#f4f4f4" stroke-width="0.6"/>
<rect x="324.60" y="430.00" width="66.70" height="12" rx="3.5" ry="3.5" fill="#fff" stroke="#9aa4cc" stroke-width="0.9"/>
<text x="357.95" y="438.30" font-size="9" text-anchor="middle" fill="#222" stroke="#222" stroke-width="0.25">Mus musculus</text>
<path d="M353.40 476.00L353.40 453.20A22.8 22.8 0 0 1 367.15 494.19Z" fill="#e0805f" stroke="#f4f4f4" stroke-width="0.6"/>
<path d="M353.40 476.00L367.15 494.19A22.8 22.8 0 0 1 365.50 495.33Z" fill="#6cbf9e" stroke="#f4f4f4" stroke-width="0.6"/>
<path d="M353.40 476.00L365.50 495.33A22.8 22.8 0 0 1 365.37 495.40Z" fill="#7c8ec6" stroke="#f4f4f4" stroke-width="0.6"/>
<path d="M353.40 476.00L365.37 495.40A22.8 22.8 0 1 1 352.68 453.21Z" fill="#c57bc0" stroke="#f4f4f4" stroke-width="0.6"/>
<path d="M353.40 476.00L352.68 453.21A22.8 22.8 0 0 1 353.40 453.20Z" fill="#9bcb63" stroke="#f4f4f4" stroke-width="0.6"/>
<rect x="28.50" y="517.90" width="61.30" height="12" rx="3.5" ry="3.5" fill="#fff" stroke="#9aa4cc" stroke-width="0.9"/>
<text x="59.15" y="526.20" font-size="9" text-anchor="middle" fill="#222" stroke="#222" stroke-width="0.25">Sus scrofa</text>
<path d="M56.50 558.00L56.50 535.20A22.8 22.8 0 0 1 57.07 580.79Z" fill="#e0805f" stroke="#f4f4f4" stroke-width="0.6"/>
<path d="M56.50 558.00L57.07 580.79A22.8 22.8 0 0 1 52.23 580.40Z" fill="#6cbf9e" stroke="#f4f4f4" stroke-width="0.6"/>
<path d="M56.50 558.00L52.23 580.40A22.8 22.8 0 0 1 52.09 580.37Z" fill="#7c8ec6" stroke="#f4f4f4" stroke-width="0.6"/>
<path d="M56.50 558.00L52.09 580.37A22.8 22.8 0 0 1 37.25 545.78Z" fill="#c57bc0" stroke="#f4f4f4" stroke-width="0.6"/>
<path d="M56.50 558.00L37.25 545.78A22.8 22.8 0 0 1 56.50 535.20Z" fill="#9bcb63" stroke="#f4f4f4" stroke-width="0.6"/>
<rect x="107.40" y="518.00" width="91.80" height="12" rx="3.5" ry="3.5" fill="#fff" stroke="#9aa4cc" stroke-width="0.9"/>
<text x="153.30" y="526.30" font-size="9" text-anchor="middle" fill="#222" stroke="#222" stroke-width="0.25">Oryctolagus cuniculus</text>
<path d="M154.00 560.30L154.00 537.50A22.8 22.8 0 0 1 173.55 548.57Z" fill="#e0805f" stroke="#f4f4f4" stroke-width="0.6"/>
<path d="M154.00 560.30L173.55 548.57A22.8 22.8 0 0 1 173.62 548.69Z" fill="#7c8ec6" stroke="#f4f4f4" stroke-width="0.6"/>
<path d="M154.00 560.30L173.62 548.69A22.8 22.8 0 1 1 131.28 562.16Z" fill="#c57bc0" stroke="#f4f4f4" stroke-width="0.6"/>
<path d="M154.00 560.30L131.28 562.16A22.8 22.8 0 0 1 154.00 537.50Z" fill="#9bcb63" stroke="#f4f4f4" stroke-width="0.6"/>
<rect x="214.20" y="518.00" width="81.70" height="12" rx="3.5" ry="3.5" fill="#fff" stroke="#9aa4cc" stroke-width="0.9"/>
<text x="255.05" y="526.30" font-size="9" text-anchor="middle" fill="#222" stroke="#222" stroke-width="0.25">Rattus norvegicus</text>
<path d="M256.50 559.70L256.50 536.90A22.8 22.8 0 0 1 277.54 568.49Z" fill="#e0805f" stroke="#f4f4f4" stroke-width="0.6"/>
<path d="M256.50 559.70L277.54 568.49A22.8 22.8 0 0 1 276.88 569.92Z" fill="#6cbf9e" stroke="#f4f4f4" stroke-width="0.6"/>
<path d="M256.50 559.70L276.88 569.92A22.8 22.8 0 1 1 243.21 541.17Z" fill="#c57bc0" stroke="#f4f4f4" stroke-width="0.6"/>
<path d="M256.50 559.70L243.21 541.17A22.8 22.8 0 0 1 256.50 536.90Z" fill="#9bcb63" stroke="#f4f4f4" stroke-width="0.6"/>
<rect x="328.20" y="517.60" width="60.70" height="12" rx="3.5" ry="3.5" fill="#fff" stroke="#9aa4cc" stroke-width="0.9"/>
<text x="358.55" y="525.90" font-size="9" text-anchor="middle" fill="#222" stroke="#222" stroke-width="0.25">Danio rerio</text>
<path d="M353.70 559.70L353.70 536.90A22.8 22.8 0 0 1 375.62 565.96Z" fill="#e0805f" stroke="#f4f4f4" stroke-width="0.6"/>
<path d="M353.70 559.70L375.62 565.96A22.8 22.8 0 0 1 375.37 566.79Z" fill="#6cbf9e" stroke="#f4f4f4" stroke-width="0.6"/>
<path d="M353.70 559.70L375.37 566.79A22.8 22.8 0 1 1 348.30 537.55Z" fill="#c57bc0" stroke="#f4f4f4" stroke-width="0.6"/>
<path d="M353.70 559.70L348.30 537.55A22.8 22.8 0 0 1 353.70 536.90Z" fill="#9bcb63" stroke="#f4f4f4" stroke-width="0.6"/>
<line x1="48.30" y1="499.60" x2="50.70" y2="497.20" stroke="#555" stroke-width="0.8"/>
<line x1="56.00" y1="501.50" x2="52.90" y2="498.50" stroke="#555" stroke-width="0.8"/>
<line x1="141.00" y1="500.80" x2="145.40" y2="499.00" stroke="#555" stroke-width="0.8"/>
<line x1="150.00" y1="501.50" x2="147.00" y2="499.00" stroke="#555" stroke-width="0.8"/>
<line x1="242.50" y1="500.10" x2="248.30" y2="497.20" stroke="#555" stroke-width="0.8"/>
<line x1="250.20" y1="497.50" x2="254.60" y2="500.70" stroke="#555" stroke-width="0.8"/>
<line x1="366.50" y1="494.30" x2="372.80" y2="493.50" stroke="#555" stroke-width="0.8"/>
<line x1="365.40" y1="494.80" x2="364.30" y2="498.50" stroke="#555" stroke-width="0.8"/>
<line x1="349.20" y1="451.70" x2="352.70" y2="452.80" stroke="#555" stroke-width="0.8"/>
<line x1="46.30" y1="579.40" x2="51.00" y2="578.30" stroke="#555" stroke-width="0.8"/>
<line x1="53.80" y1="578.60" x2="56.70" y2="580.60" stroke="#555" stroke-width="0.8"/>
<line x1="173.10" y1="550.00" x2="175.80" y2="551.50" stroke="#555" stroke-width="0.8"/>
<line x1="276.50" y1="570.00" x2="279.80" y2="573.80" stroke="#555" stroke-width="0.8"/>
<line x1="375.20" y1="568.10" x2="375.90" y2="573.50" stroke="#555" stroke-width="0.8"/>
<text x="49.40" y="452.90" font-size="7.6" text-anchor="middle" fill="#2a2a2a" stroke="#2a2a2a" stroke-width="0.25">6.6%</text>
<text x="77.70" y="475.10" font-size="7.6" text-anchor="middle" fill="#2a2a2a" stroke="#2a2a2a" stroke-width="0.25">50.7%</text>
<text x="39.60" y="475.10" font-size="7.6" text-anchor="middle" fill="#2a2a2a" stroke="#2a2a2a" stroke-width="0.25">39.3%</text>
<text x="39.50" y="503.30" font-size="7.6" text-anchor="middle" fill="#2a2a2a" stroke="#2a2a2a" stroke-width="0.25">0.1%</text>
<text x="66.70" y="503.30" font-size="7.6" text-anchor="middle" fill="#2a2a2a" stroke="#2a2a2a" stroke-width="0.25">3.2%</text>
<text x="155.30" y="451.40" font-size="7.6" text-anchor="middle" fill="#2a2a2a" stroke="#2a2a2a" stroke-width="0.25">1.1%</text>
<text x="172.00" y="479.10" font-size="7.6" text-anchor="middle" fill="#2a2a2a" stroke="#2a2a2a" stroke-width="0.25">52.5%</text>
<text x="135.40" y="476.00" font-size="7.6" text-anchor="middle" fill="#2a2a2a" stroke="#2a2a2a" stroke-width="0.25">43.7%</text>
<text x="131.20" y="504.00" font-size="7.6" text-anchor="middle" fill="#2a2a2a" stroke="#2a2a2a" stroke-width="0.25">0.1%</text>
<text x="159.90" y="505.60" font-size="7.6" text-anchor="middle" fill="#2a2a2a" stroke="#2a2a2a" stroke-width="0.25">2.6%</text>
<text x="258.00" y="451.70" font-size="7.6" text-anchor="middle" fill="#2a2a2a" stroke="#2a2a2a" stroke-width="0.25">1.8%</text>
<text x="276.10" y="475.40" font-size="7.6" text-anchor="middle" fill="#2a2a2a" stroke="#2a2a2a" stroke-width="0.25">52.5%</text>
<text x="239.20" y="473.80" font-size="7.6" text-anchor="middle" fill="#2a2a2a" stroke="#2a2a2a" stroke-width="0.25">41.9%</text>
<text x="232.40" y="502.80" font-size="7.6" text-anchor="middle" fill="#2a2a2a" stroke="#2a2a2a" stroke-width="0.25">0.1%</text>
<text x="265.30" y="505.00" font-size="7.6" text-anchor="middle" fill="#2a2a2a" stroke="#2a2a2a" stroke-width="0.25">3.7%</text>
<text x="338.90" y="451.90" font-size="7.6" text-anchor="middle" fill="#2a2a2a" stroke="#2a2a2a" stroke-width="0.25">0.5%</text>
<text x="375.00" y="470.20" font-size="7.6" text-anchor="middle" fill="#2a2a2a" stroke="#2a2a2a" stroke-width="0.25">39.7%</text>
<text x="336.60" y="477.90" font-size="7.6" text-anchor="middle" fill="#2a2a2a" stroke="#2a2a2a" stroke-width="0.25">58.3%</text>
<text x="381.80" y="493.50" font-size="7.6" text-anchor="middle" fill="#2a2a2a" stroke="#2a2a2a" stroke-width="0.25">1.4%</text>
<text x="355.60" y="504.70" font-size="7.6" text-anchor="middle" fill="#2a2a2a" stroke="#2a2a2a" stroke-width="0.25">0.1%</text>
<text x="44.70" y="538.90" font-size="7.6" text-anchor="middle" fill="#2a2a2a" stroke="#2a2a2a" stroke-width="0.25">16%</text>
<text x="77.90" y="557.10" font-size="7.6" text-anchor="middle" fill="#2a2a2a" stroke="#2a2a2a" stroke-width="0.25">49.6%</text>
<text x="39.80" y="561.50" font-size="7.6" text-anchor="middle" fill="#2a2a2a" stroke="#2a2a2a" stroke-width="0.25">30.9%</text>
<text x="37.40" y="582.40" font-size="7.6" text-anchor="middle" fill="#2a2a2a" stroke="#2a2a2a" stroke-width="0.25">0.1%</text>
<text x="69.70" y="584.50" font-size="7.6" text-anchor="middle" fill="#2a2a2a" stroke="#2a2a2a" stroke-width="0.25">3.4%</text>
<text x="165.60" y="542.50" font-size="7.6" text-anchor="middle" fill="#2a2a2a" stroke="#2a2a2a" stroke-width="0.25">16.4%</text>
<text x="138.50" y="550.50" font-size="7.6" text-anchor="middle" fill="#2a2a2a" stroke="#2a2a2a" stroke-width="0.25">26.3%</text>
<text x="185.80" y="555.60" font-size="7.6" text-anchor="middle" fill="#2a2a2a" stroke="#2a2a2a" stroke-width="0.25">0.1%</text>
<text x="156.00" y="574.20" font-size="7.6" text-anchor="middle" fill="#2a2a2a" stroke="#2a2a2a" stroke-width="0.25">57.2%</text>
<text x="245.80" y="542.50" font-size="7.6" text-anchor="middle" fill="#2a2a2a" stroke="#2a2a2a" stroke-width="0.25">9.9%</text>
<text x="274.20" y="553.90" font-size="7.6" text-anchor="middle" fill="#2a2a2a" stroke="#2a2a2a" stroke-width="0.25">31.3%</text>
<text x="247.10" y="570.20" font-size="7.6" text-anchor="middle" fill="#2a2a2a" stroke="#2a2a2a" stroke-width="0.25">57.7%</text>
<text x="283.50" y="581.10" font-size="7.6" text-anchor="middle" fill="#2a2a2a" stroke="#2a2a2a" stroke-width="0.25">1.1%</text>
<text x="347.40" y="542.50" font-size="7.6" text-anchor="middle" fill="#2a2a2a" stroke="#2a2a2a" stroke-width="0.25">3.8%</text>
<text x="372.20" y="553.40" font-size="7.6" text-anchor="middle" fill="#2a2a2a" stroke="#2a2a2a" stroke-width="0.25">29.4%</text>
<text x="344.20" y="571.90" font-size="7.6" text-anchor="middle" fill="#2a2a2a" stroke="#2a2a2a" stroke-width="0.25">66.1%</text>
<text x="377.90" y="580.80" font-size="7.6" text-anchor="middle" fill="#2a2a2a" stroke="#2a2a2a" stroke-width="0.25">0.6%</text>
<line x1="410.80" y1="468.00" x2="410.80" y2="554.00" stroke="#333" stroke-width="1.2"/>
<rect x="422.60" y="468.30" width="7.00" height="7.20" fill="#e0805f" stroke="none" stroke-width="0"/>
<text x="433.40" y="474.40" font-size="10.8" text-anchor="start" fill="#222" stroke="#222" stroke-width="0.25">nonsynonymous</text>
<rect x="422.60" y="488.00" width="7.00" height="7.20" fill="#6cbf9e" stroke="none" stroke-width="0"/>
<text x="433.40" y="494.10" font-size="10.8" text-anchor="start" fill="#222" stroke="#222" stroke-width="0.25">stopgain</text>
<rect x="422.60" y="507.30" width="7.00" height="7.20" fill="#7c8ec6" stroke="none" stroke-width="0"/>
<text x="433.40" y="513.40" font-size="10.8" text-anchor="start" fill="#222" stroke="#222" stroke-width="0.25">stoploss</text>
<rect x="422.60" y="527.00" width="7.00" height="7.20" fill="#c57bc0" stroke="none" stroke-width="0"/>
<text x="433.40" y="533.10" font-size="10.8" text-anchor="start" fill="#222" stroke="#222" stroke-width="0.25">synonymous</text>
<rect x="422.60" y="546.60" width="7.00" height="7.20" fill="#9bcb63" stroke="none" stroke-width="0"/>
<text x="433.40" y="552.70" font-size="10.8" text-anchor="start" fill="#222" stroke="#222" stroke-width="0.25">unknown</text>
</svg></body></html>
